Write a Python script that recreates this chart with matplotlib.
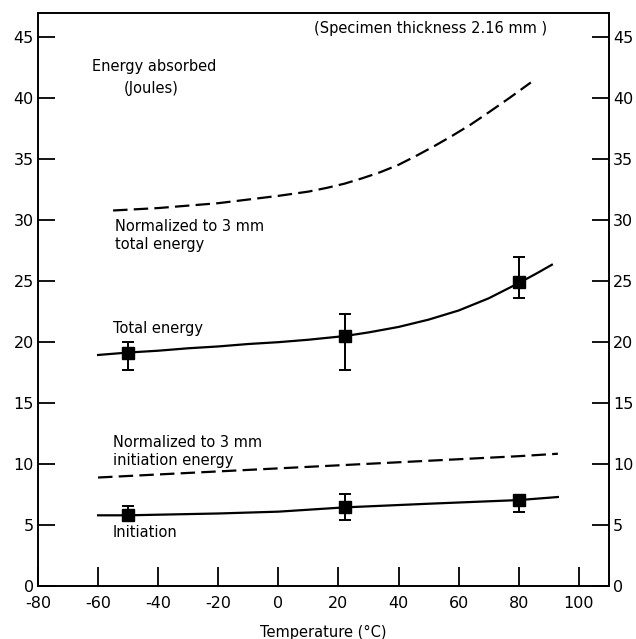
import matplotlib
matplotlib.use("Agg")
import matplotlib.pyplot as plt

plt.rcParams['axes.unicode_minus'] = False

# measured points (temperature in deg C, energy in J)
temp_pts = [-50, 22, 80]
total_pts = [19.15, 20.5, 24.9]
total_lo = [17.75, 17.75, 23.65]
total_hi = [20.05, 22.35, 26.95]
init_pts = [5.8, 6.45, 7.05]
init_lo = [5.45, 5.45, 6.1]
init_hi = [6.6, 7.55, 7.35]

# fitted curves
total_curve_t = [-60, -50, -40, -30, -20, -10, 0, 10, 22, 30, 40, 50, 60, 70, 80, 86, 91]
total_curve_e = [18.95, 19.15, 19.3, 19.5, 19.65, 19.85, 20.0, 20.2, 20.5, 20.8, 21.25, 21.85,
                 22.6, 23.6, 24.85, 25.65, 26.35]
init_curve_t = [-60, -50, -20, 0, 22, 50, 80, 93]
init_curve_e = [5.8, 5.8, 5.95, 6.1, 6.45, 6.75, 7.05, 7.3]
norm_total_t = [-55, -40, -20, 0, 10, 16, 22, 28, 34, 40, 46, 52, 58, 64, 70, 77, 84]
norm_total_e = [30.8, 31.0, 31.4, 32.0, 32.35, 32.65, 33.0, 33.45, 33.95, 34.55, 35.3, 36.1,
                36.95, 37.85, 38.85, 40.05, 41.3]
norm_init_t = [-60, -20, 0, 20, 40, 60, 80, 93]
norm_init_e = [8.9, 9.4, 9.65, 9.9, 10.15, 10.4, 10.65, 10.85]

xticks = [-80, -60, -40, -20, 0, 20, 40, 60, 80, 100]
yticks = [0, 5, 10, 15, 20, 25, 30, 35, 40, 45]

fig = plt.figure(figsize=(6.36, 6.39), dpi=100)
ax = fig.add_axes([0.0597, 0.0829, 0.8978, 0.8968])

ax.plot(total_curve_t, total_curve_e, color='black', lw=1.6)
ax.plot(init_curve_t, init_curve_e, color='black', lw=1.6)
ax.plot(norm_total_t, norm_total_e, color='black', lw=1.6, linestyle=(0, (6.5, 2.8)))
ax.plot(norm_init_t, norm_init_e, color='black', lw=1.6, linestyle=(0, (6.5, 2.8)))

for vals, lo, hi in [(total_pts, total_lo, total_hi), (init_pts, init_lo, init_hi)]:
    yerr = [[v - l for v, l in zip(vals, lo)], [h - v for v, h in zip(vals, hi)]]
    ax.errorbar(temp_pts, vals, yerr=yerr, fmt='s', color='black', ms=8,
                capsize=4, elinewidth=1.4, capthick=1.4)

ax.set_xlim(-80, 110)
ax.set_ylim(0, 47)
ax.set_xticks(xticks)
ax.set_yticks(yticks)
ax.tick_params(axis='both', direction='in', labelsize=11.5, width=1.3)
ax.tick_params(axis='x', length=14, pad=7)
ax.tick_params(axis='y', length=12, pad=3, right=True, labelright=True)
for s in ax.spines.values():
    s.set_linewidth(1.4)

ax.set_xlabel('Temperature (°C)', fontsize=10.5, labelpad=10)

fs = 10.5
ax.text(-62, 42.6, 'Energy absorbed', fontsize=fs, ha='left', va='center')
ax.text(-51.5, 40.8, '(Joules)', fontsize=fs, ha='left', va='center')
ax.text(12, 45.7, '(Specimen thickness 2.16 mm )', fontsize=fs, ha='left', va='center')
ax.text(-54.5, 29.5, 'Normalized to 3 mm', fontsize=fs, ha='left', va='center')
ax.text(-54.5, 28.0, 'total energy', fontsize=fs, ha='left', va='center')
ax.text(-55, 21.1, 'Total energy', fontsize=fs, ha='left', va='center')
ax.text(-55, 11.8, 'Normalized to 3 mm', fontsize=fs, ha='left', va='center')
ax.text(-55, 10.3, 'initiation energy', fontsize=fs, ha='left', va='center')
ax.text(-55, 4.4, 'Initiation', fontsize=fs, ha='left', va='center')

fig.savefig('out.png', dpi=100)
